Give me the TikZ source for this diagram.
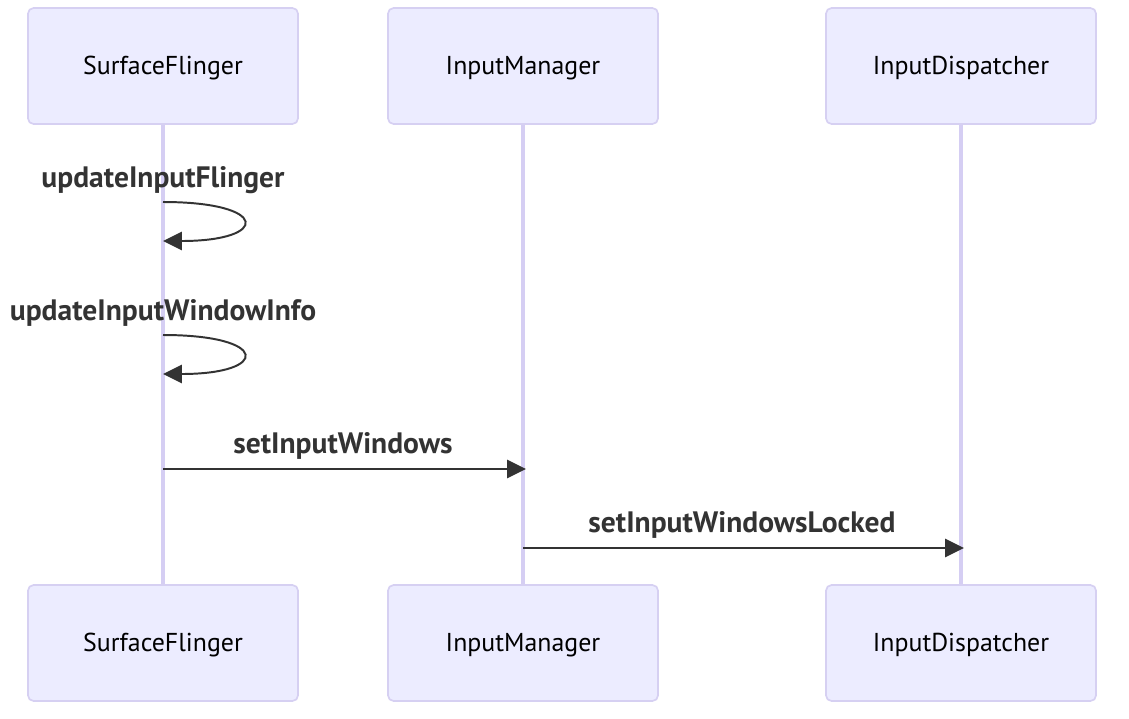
\documentclass[tikz,border=0pt]{standalone}
\usepackage{fontspec}
\setmainfont{PT Sans}
\usetikzlibrary{arrows.meta}
\definecolor{boxfill}{HTML}{ECECFF}
\definecolor{boxline}{HTML}{D6D0F2}
\definecolor{lifecol}{HTML}{D5CEF3}
\definecolor{msgcol}{HTML}{333333}

\begin{document}
\begin{tikzpicture}[
    x=0.025cm, y=-0.025cm,
    >={Triangle[length=13.5pt,width=13pt]},
    actor/.style={draw=boxline, fill=boxfill, line width=1.2pt, rounded corners=4pt,
      minimum width=6.75cm, minimum height=2.9cm, text=black,
      text height=14pt, text depth=2.6pt,
      font=\fontsize{18.4}{22}\selectfont},
    lifeline/.style={draw=lifecol, line width=2.2pt},
    msg/.style={draw=msgcol, line width=1.4pt, ->},
    msg label/.style={anchor=base, text=msgcol, font=\bfseries\fontsize{21}{25}\selectfont}
  ]

  \useasboundingbox (0,0) rectangle (1129,718);

  % actors on top and bottom, with their lifelines
  \foreach \name/\label/\x in {SF/SurfaceFlinger/163, IM/InputManager/523, ID/InputDispatcher/961} {
    \node[actor] (\name Top) at (\x,66) {\label};
    \node[actor] (\name Bot) at (\x,643) {\label};
    \draw[lifeline] (\name Top) -- (\name Bot);
  }

  % self calls on SurfaceFlinger
  \foreach \k/\label/\y in {1/updateInputFlinger/202, 2/updateInputWindowInfo/335} {
    \pgfmathsetmacro{\yEnd}{\y+39}
    \coordinate (LoopA\k) at (163,\y);
    \coordinate (LoopB\k) at (163,\yEnd);
    \node[msg label] (LoopLabel\k) at (163,\y-15) {\label};
    \draw[msg] (LoopA\k) .. controls (270,\y) and (270,\yEnd) .. (LoopB\k);
  }

  % SurfaceFlinger -> InputManager
  \coordinate (SFOut) at (163,469);
  \coordinate (IMIn) at (526,469);
  \draw[msg] (SFOut) -- (IMIn);
  \node[msg label] (MsgA) at (343,453) {setInputWindows};

  % InputManager -> InputDispatcher
  \coordinate (IMOut) at (523,548);
  \coordinate (IDIn) at (964,548);
  \draw[msg] (IMOut) -- (IDIn);
  \node[msg label] (MsgB) at (742,532) {setInputWindowsLocked};

\end{tikzpicture}
\end{document}
